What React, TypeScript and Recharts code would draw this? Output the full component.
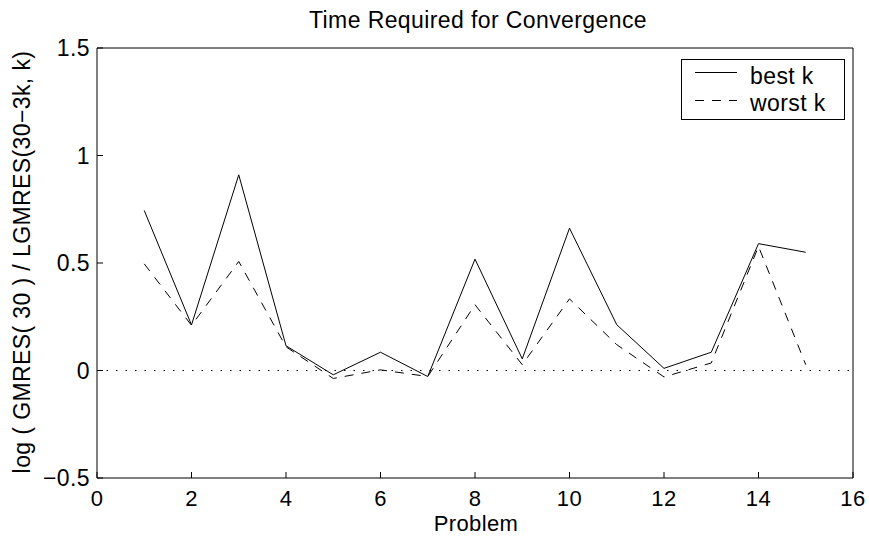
import { LineChart, Line, XAxis, YAxis, ReferenceLine, Legend } from 'recharts'

const problems = [1, 2, 3, 4, 5, 6, 7, 8, 9, 10, 11, 12, 13, 14, 15]
const bestK = [0.744, 0.212, 0.91, 0.115, -0.02, 0.085, -0.028, 0.518, 0.054, 0.662, 0.213, 0.01, 0.085, 0.59, 0.55]
const worstK = [0.496, 0.21, 0.507, 0.11, -0.037, 0.003, -0.028, 0.306, 0.027, 0.333, 0.12, -0.03, 0.035, 0.577, 0.027]

const xTicks = [0, 2, 4, 6, 8, 10, 12, 14, 16]
const yTicks = [-0.5, 0, 0.5, 1, 1.5]

const title = 'Time Required for Convergence'
const xLabel = 'Problem'
const yLabel = 'log ( GMRES( 30 ) / LGMRES(30\u22123k, k)'

const data = problems.map((p, i) => ({ problem: p, best: bestK[i], worst: worstK[i] }))

const font = '"Liberation Sans", Arial, Helvetica, sans-serif'
const textStyle = { fill: '#000', fontSize: 23, fontFamily: font, letterSpacing: 0.4 }
// bottom texts a touch smaller so tick labels and the axis title don't collide
const bottomStyle = { ...textStyle, fontSize: 22 }
const DASH = '9 8'

const fmt = (v: number) => String(v).replace('-', '\u2212')

function LegendBox() {
  return (
    <svg width={165} height={62} style={{ display: 'block' }}>
      <rect x={0.5} y={0.5} width={163} height={60} fill="#fff" stroke="#000" strokeWidth={1} />
      <line x1={14} x2={56} y1={13.5} y2={13.5} stroke="#000" strokeWidth={1} />
      <text x={69} y={25} {...textStyle}>best k</text>
      <line x1={14} x2={56} y1={41.5} y2={41.5} stroke="#000" strokeWidth={1} strokeDasharray={DASH} />
      <text x={69} y={52} {...textStyle}>worst k</text>
    </svg>
  )
}

export default function App() {
  return (
    <div style={{ position: 'absolute', left: 0, top: 0 }}>
      <LineChart
        width={869}
        height={536}
        data={data}
        margin={{ top: 47, right: 15, bottom: 57, left: 96 }}
        style={{ background: '#fff' }}
      >
        <XAxis
          dataKey="problem"
          type="number"
          domain={[0, 16]}
          ticks={xTicks}
          interval={0}
          height={1}
          stroke="#000"
          tickSize={-6}
          tickMargin={18}
          tick={bottomStyle}
          label={{
            content: () => (
              <text x={476} y={531} textAnchor="middle" {...bottomStyle}>
                {xLabel}
              </text>
            ),
          }}
        />
        <XAxis
          xAxisId="top"
          orientation="top"
          type="number"
          domain={[0, 16]}
          ticks={xTicks}
          interval={0}
          height={1}
          stroke="#000"
          tickSize={-6}
          tick={false}
          label={{
            content: () => (
              <text x={478} y={28} textAnchor="middle" {...textStyle}>
                {title}
              </text>
            ),
          }}
        />
        <YAxis
          type="number"
          domain={[-0.5, 1.5]}
          ticks={yTicks}
          interval={0}
          width={1}
          stroke="#000"
          tickSize={-6}
          tickMargin={13}
          tick={textStyle}
          tickFormatter={fmt}
          label={{
            content: () => (
              <text x={30} y={262} transform="rotate(-90 30 262)" textAnchor="middle" {...textStyle}>
                {yLabel}
              </text>
            ),
          }}
        />
        <YAxis
          yAxisId="right"
          orientation="right"
          type="number"
          domain={[-0.5, 1.5]}
          ticks={yTicks}
          interval={0}
          width={1}
          stroke="#000"
          tickSize={-6}
          tick={false}
        />
        <ReferenceLine y={0} stroke="#000" strokeWidth={1.2} strokeDasharray="1.5 8" />
        <Line
          type="linear"
          dataKey="best"
          name="best k"
          stroke="#000"
          strokeWidth={1}
          dot={false}
          isAnimationActive={false}
        />
        <Line
          type="linear"
          dataKey="worst"
          name="worst k"
          stroke="#000"
          strokeWidth={1}
          strokeDasharray={DASH}
          dot={false}
          isAnimationActive={false}
        />
        <Legend
          layout="horizontal"
          verticalAlign="middle"
          align="center"
          content={() => <LegendBox />}
          wrapperStyle={{ left: 681, top: 59, width: 165, height: 62 }}
        />
      </LineChart>
    </div>
  )
}
